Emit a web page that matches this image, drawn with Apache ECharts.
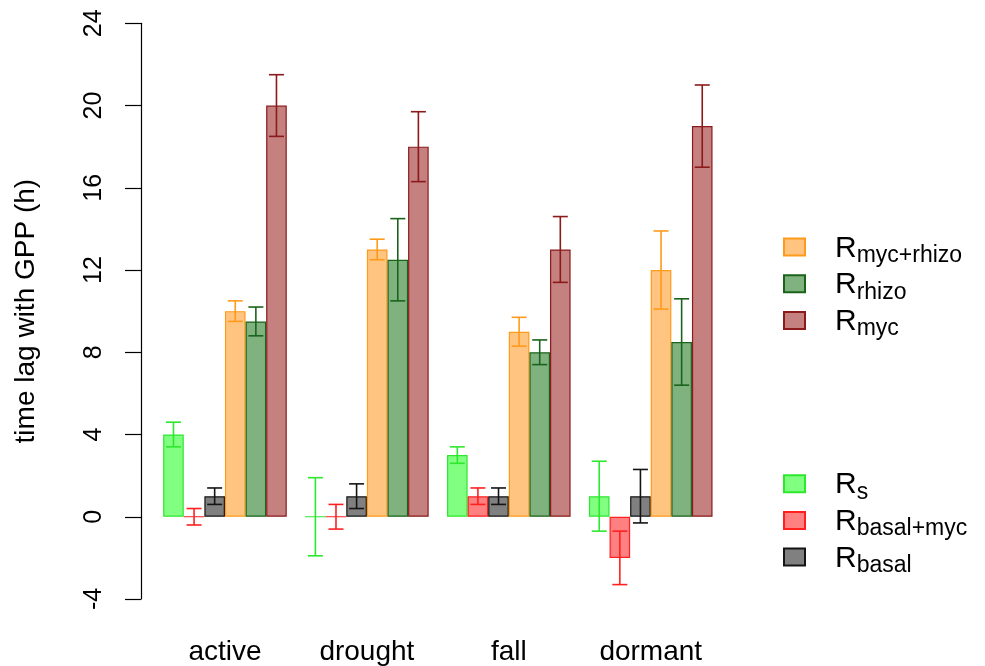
<!DOCTYPE html>
<html>
<head>
<meta charset="utf-8">
<script src="https://cdn.jsdelivr.net/npm/echarts@6/dist/echarts.min.js"></script>
<style>
  html, body { margin: 0; padding: 0; background: #ffffff; }
  #chart { width: 985px; height: 666px; }
</style>
</head>
<body>
<div id="chart"></div>
<script>
// Seasons on the x axis
const seasons = ['active', 'drought', 'fall', 'dormant'];

// Respiration components (series names) and their subscripts
const fluxNames = ['Rs', 'Rbasal+myc', 'Rbasal', 'Rmyc+rhizo', 'Rrhizo', 'Rmyc'];
const fluxSubscripts = ['s', 'basal+myc', 'basal', 'myc+rhizo', 'rhizo', 'myc'];

// Mean time lag with GPP (h) per season
const lagRs         = [4, 0, 3, 1];
const lagRbasalMyc  = [0, 0, 1, -2];
const lagRbasal     = [1, 1, 1, 1];
const lagRmycRhizo  = [10, 13, 9, 12];
const lagRrhizo     = [9.5, 12.5, 8, 8.5];
const lagRmyc       = [20, 18, 13, 19];

// Half-width of the error bars (h)
const errRs         = [0.6, 1.9, 0.4, 1.7];
const errRbasalMyc  = [0.4, 0.6, 0.4, 1.3];
const errRbasal     = [0.4, 0.6, 0.4, 1.3];
const errRmycRhizo  = [0.5, 0.5, 0.7, 1.9];
const errRrhizo     = [0.7, 2.0, 0.6, 2.1];
const errRmyc       = [1.5, 1.7, 1.6, 2.0];

// Y axis ticks
const yTicks = [-4, 0, 4, 8, 12, 16, 20, 24];

const means = [lagRs, lagRbasalMyc, lagRbasal, lagRmycRhizo, lagRrhizo, lagRmyc];
const errs = [errRs, errRbasalMyc, errRbasal, errRmycRhizo, errRrhizo, errRmyc];

const FONT = '"Liberation Sans", Arial, Helvetica, sans-serif';
const fills   = ['#80ff80', '#ff8080', '#808080', '#ffc580', '#80b280', '#c58080'];
const strokes = ['#2ee82e', '#ff2020', '#141414', '#ff9a1a', '#1a631a', '#8b1a1a'];
const BAR_W = 20.6;
const CAP_W = 15;

const series = [];
means.forEach((vals, i) => {
  series.push({
    name: fluxNames[i],
    type: 'bar',
    data: vals,
    barWidth: BAR_W,
    barGap: '0%',
    itemStyle: { color: fills[i], borderColor: strokes[i], borderWidth: 1.2 },
    emphasis: { disabled: true },
    z: 2
  });
});

// Error bars, one custom series per component, shifted to sit on their bar
means.forEach((vals, i) => {
  const shift = (i - (means.length - 1) / 2) * BAR_W;
  series.push({
    name: fluxNames[i] + ' error',
    type: 'custom',
    z: 5,
    silent: true,
    encode: { x: 0, y: [1, 2] },
    data: vals.map((v, k) => [k, v - errs[i][k], v + errs[i][k]]),
    renderItem: (params, api) => {
      const lo = api.coord([api.value(0), api.value(1)]);
      const hi = api.coord([api.value(0), api.value(2)]);
      const x = lo[0] + shift;
      const style = { stroke: strokes[i], lineWidth: 1.6, fill: null };
      return {
        type: 'group',
        children: [
          { type: 'line', shape: { x1: x, y1: lo[1], x2: x, y2: hi[1] }, style },
          { type: 'line', shape: { x1: x - CAP_W / 2, y1: lo[1], x2: x + CAP_W / 2, y2: lo[1] }, style },
          { type: 'line', shape: { x1: x - CAP_W / 2, y1: hi[1], x2: x + CAP_W / 2, y2: hi[1] }, style }
        ]
      };
    }
  });
});

// Legend labels: "R" with a lowered, smaller subscript
const legendText = {
  fontFamily: FONT,
  color: '#000',
  rich: {
    R: { fontFamily: FONT, fontSize: 30, lineHeight: 33, verticalAlign: 'top', color: '#000', padding: [2.75, 0, 0, 25] },
    s: { fontFamily: FONT, fontSize: 23, lineHeight: 33, verticalAlign: 'top', color: '#000', padding: [13.7, 0, 0, 0] }
  }
};
const legendFormatter = name => '{R|R}{s|' + fluxSubscripts[fluxNames.indexOf(name)] + '}';
const legendBase = {
  orient: 'vertical',
  left: 783,
  itemWidth: 21,
  itemHeight: 17,
  itemGap: 0,
  padding: 0,
  icon: 'rect',
  selectedMode: false,
  formatter: legendFormatter,
  textStyle: legendText
};

const option = {
  animation: false,
  backgroundColor: '#ffffff',
  grid: { left: 154, right: 263.3, top: 23.3, bottom: 65.9, containLabel: false },
  legend: [
    Object.assign({}, legendBase, { data: fluxNames.slice(3), top: 230.5 }),
    Object.assign({}, legendBase, { data: fluxNames.slice(0, 3), top: 467.2 })
  ],
  xAxis: {
    type: 'category',
    data: seasons,
    axisLine: { show: false },
    axisTick: { show: false },
    axisLabel: { fontFamily: FONT, fontSize: 28, color: '#000', margin: 39 }
  },
  yAxis: {
    type: 'value',
    min: yTicks[0],
    max: yTicks[yTicks.length - 1],
    interval: yTicks[1] - yTicks[0],
    offset: 13,
    name: 'time lag with GPP (h)',
    nameLocation: 'middle',
    nameGap: 101,
    nameTextStyle: { fontFamily: FONT, fontSize: 28, color: '#000' },
    axisLine: { show: true, lineStyle: { color: '#000', width: 1.2 } },
    axisTick: { show: true, length: 16, lineStyle: { color: '#000', width: 1.2 } },
    splitLine: { show: false },
    axisLabel: { rotate: 90, margin: 34, fontFamily: FONT, fontSize: 25, color: '#000' }
  },
  series
};

const chart = echarts.init(document.getElementById('chart'), null, { renderer: 'canvas' });
chart.setOption(option);
</script>
</body>
</html>
